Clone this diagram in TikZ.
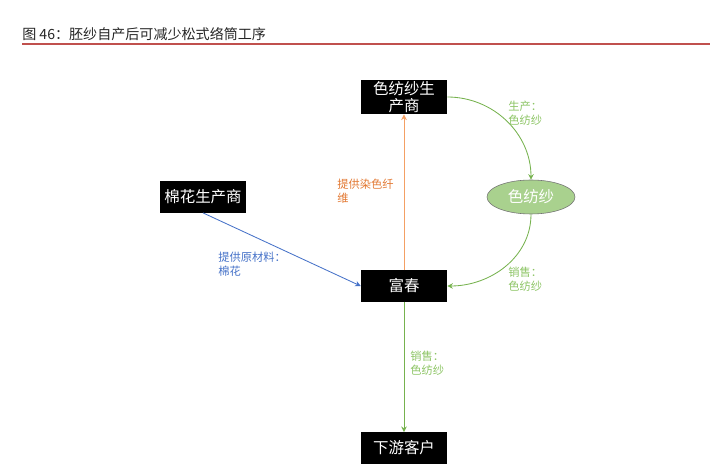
\documentclass[tikz,border=0pt]{standalone}
\usepackage{fontspec}
\setmainfont{Noto Sans CJK SC}
\usepackage{tikz}
\usetikzlibrary{arrows.meta}
\usetikzlibrary{shapes.geometric}
\definecolor{titlered}{RGB}{192, 80, 77}
\definecolor{yarngreen}{RGB}{118, 178, 78}
\definecolor{yarntext}{RGB}{140, 196, 100}
\definecolor{ellgreen}{RGB}{169, 209, 142}
\definecolor{dyeorange}{RGB}{244, 160, 100}
\definecolor{dyetext}{RGB}{226, 120, 50}
\definecolor{cottonblue}{RGB}{70, 114, 200}
\tikzset{
    firm/.style={fill=black, text=white, minimum width=2.15cm, minimum height=0.78cm,
                 inner sep=0pt, align=center, font=\fontsize{11}{12.5}\selectfont},
    flowlabel/.style={anchor=north west, align=left, inner sep=0pt,
                 font=\fontsize{8}{9.5}\selectfont},
    flow/.style={semithick, -{Stealth[length=4pt, width=4pt]}}
}
\begin{document}
\begin{tikzpicture}[x=0.025cm, y=-0.025cm]
            \useasboundingbox (0, 0) rectangle (713, 465);
            % Title & rule
            \node[anchor=south west, inner sep=0pt, text=black!85, font=\fontsize{10}{12}\selectfont]
                 (title) at (22, 41) {图 46：胚纱自产后可减少松式络筒工序};
            \draw[titlered, line width=1.5pt] (22, 44) -- (710, 44);
            % Firms
            \node[firm, minimum height=0.86cm] (dyer)   at (404, 97)  {色纺纱生\\产商};
            \node[firm]                        (cotton) at (203, 197) {棉花生产商};
            \node[firm]                        (fuchun) at (404, 286) {富春};
            \node[firm]                        (client) at (404, 448) {下游客户};
            % Product
            \node[ellipse, draw=black!55, fill=ellgreen, text=white,
                  minimum width=2.2cm, minimum height=0.85cm, inner sep=0pt,
                  font=\fontsize{11}{12}\selectfont] (yarn) at (531, 197) {色纺纱};
            % Flows
            \draw[flow, cottonblue] (cotton.south) -- (fuchun.west);
            \draw[flow, dyeorange]  (fuchun.north) -- (dyer.south);
            \draw[flow, yarngreen]  (dyer.east) to[out=0, in=90] (yarn.north);
            \draw[flow, yarngreen]  (yarn.south) to[out=-90, in=0] (fuchun.east);
            \draw[flow, yarngreen]  (fuchun.south) -- (client.north);
            % Labels
            \node[flowlabel, text=cottonblue] (lcotton) at (218, 252) {提供原材料：\\棉花};
            \node[flowlabel, text=dyetext]    (ldye)    at (337, 179) {提供染色纤\\维};
            \node[flowlabel, text=yarntext]   (lmake)   at (508, 101) {生产：\\色纺纱};
            \node[flowlabel, text=yarntext]   (lsell)   at (508, 267) {销售：\\色纺纱};
            \node[flowlabel, text=yarntext]   (ldown)   at (410, 351) {销售：\\色纺纱};
        \end{tikzpicture}
\end{document}
